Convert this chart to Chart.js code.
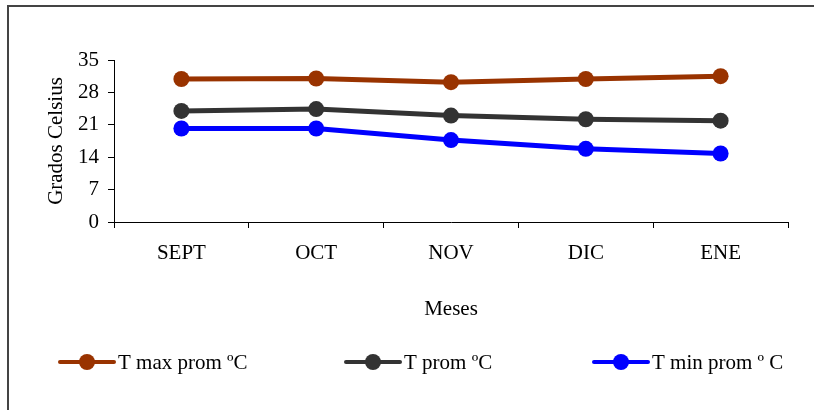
<!DOCTYPE html>
<html>
<head>
<meta charset="utf-8">
<script src="https://cdn.jsdelivr.net/npm/chart.js@4"></script>
<style>
  html, body { margin: 0; padding: 0; background: #fff; }
  #wrap { position: relative; width: 821px; height: 410px; overflow: hidden; }
  #frame {
    position: absolute; left: 7px; top: 5px; width: 805px; height: 420px;
    border-top: 2px solid #444; border-left: 2px solid #444;
  }
  #grafico { position: absolute; left: 0; top: 0; }
</style>
</head>
<body>
<div id="wrap">
  <div id="frame"></div>
  <canvas id="grafico" width="821" height="410"></canvas>
</div>
<script>
const meses = ["SEPT", "OCT", "NOV", "DIC", "ENE"];
const tMax = [30.9, 31.0, 30.2, 30.9, 31.5];
const tProm = [24.0, 24.4, 23.0, 22.2, 21.9];
const tMin = [20.2, 20.2, 17.7, 15.8, 14.8];
const yTicks = [0, 7, 14, 21, 28, 35];

const serif = "'Liberation Serif', 'Times New Roman', serif";
const fontSize = 21;

function serie(label, data, color) {
    return {
        label: label,
        data: data,
        borderColor: color,
        backgroundColor: color,
        borderWidth: 5,
        pointRadius: 8,
        pointHoverRadius: 8,
        pointBorderWidth: 0,
        pointBackgroundColor: color,
        tension: 0
    };
}

// leyenda dibujada a mano: línea con punto y texto
const leyenda = {
    id: 'leyenda',
    afterDraw(chart) {
        const ctx = chart.ctx;
        const xs = [87, 373, 621];
        const y = 362;
        ctx.save();
        chart.data.datasets.forEach((ds, i) => {
            const cx = xs[i];
            ctx.strokeStyle = ds.borderColor;
            ctx.lineWidth = 4;
            ctx.lineCap = 'round';
            ctx.beginPath();
            ctx.moveTo(cx - 27, y);
            ctx.lineTo(cx + 27, y);
            ctx.stroke();
            ctx.fillStyle = ds.borderColor;
            ctx.beginPath();
            ctx.arc(cx, y, 8, 0, Math.PI * 2);
            ctx.fill();
            ctx.fillStyle = '#000';
            ctx.font = fontSize + "px " + serif;
            ctx.textBaseline = 'middle';
            ctx.textAlign = 'left';
            ctx.fillText(ds.label, cx + 31, y + 1);
        });
        ctx.restore();
    }
};

new Chart(document.getElementById('grafico'), {
    type: 'line',
    data: {
        labels: meses,
        datasets: [
            serie("T max prom ºC", tMax, '#993300'),
            serie("T prom ºC", tProm, '#333333'),
            serie("T min prom º C", tMin, '#0000FF')
        ]
    },
    options: {
        responsive: false,
        animation: false,
        events: [],
        layout: { padding: { left: 40, top: 60, right: 33, bottom: 84 } },
        plugins: {
            legend: { display: false },
            tooltip: { enabled: false }
        },
        scales: {
            x: {
                offset: true,
                afterFit(s) { s.height = 104; },
                border: { color: '#000', width: 1 },
                grid: { offset: true, drawOnChartArea: false, tickLength: 6, color: '#000' },
                ticks: { color: '#000', font: { family: serif, size: fontSize }, padding: 13, maxRotation: 0 },
                title: {
                    display: true, text: 'Meses', color: '#000',
                    font: { family: serif, size: fontSize }, padding: { top: 4, bottom: 4 }
                }
            },
            y: {
                min: 0,
                max: 35,
                afterFit(s) { s.width = 74; },
                afterBuildTicks(s) { s.ticks = yTicks.map(v => ({ value: v })); },
                border: { color: '#000', width: 1 },
                grid: { drawOnChartArea: false, tickLength: 6, color: '#000' },
                ticks: { color: '#000', font: { family: serif, size: fontSize }, padding: 9 },
                title: {
                    display: true, text: 'Grados Celsius', color: '#000',
                    font: { family: serif, size: fontSize }, padding: { top: 4, bottom: 4 }
                }
            }
        }
    },
    plugins: [leyenda]
});
</script>
</body>
</html>
